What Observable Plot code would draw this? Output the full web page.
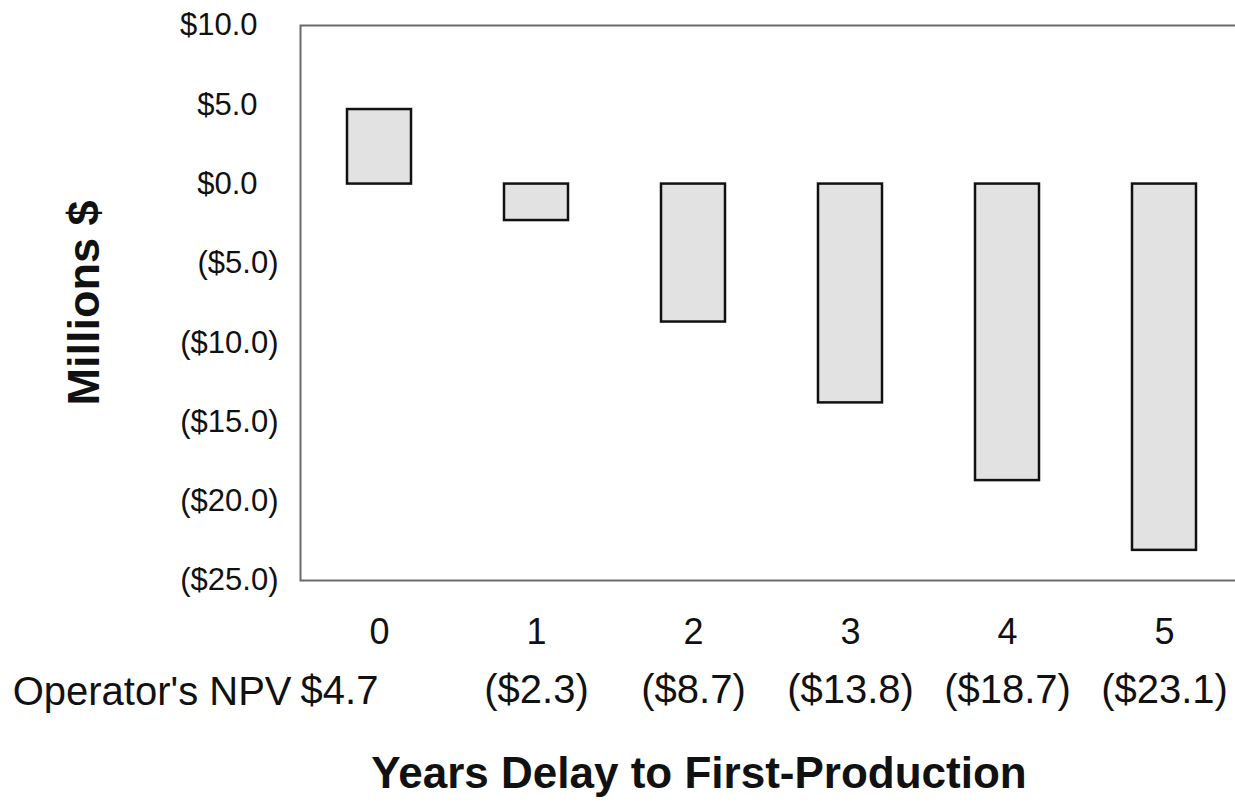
<!DOCTYPE html>
<html>
<head>
<meta charset="utf-8">
<script src="https://cdn.jsdelivr.net/npm/d3@7"></script>
<script src="https://cdn.jsdelivr.net/npm/@observablehq/plot@0.6"></script>
<style>
  html, body { margin: 0; padding: 0; background: #fff; }
  #chart svg { display: block; }
</style>
</head>
<body>
<div id="chart"></div>
<script>
const years = [0, 1, 2, 3, 4, 5];
const npv = [4.7, -2.3, -8.7, -13.8, -18.7, -23.1];
const yTicks = [10, 5, 0, -5, -10, -15, -20, -25];
const rowLabel = "Operator's NPV";
const xTitle = "Years Delay to First-Production";
const yTitle = "Millions $";

const data = years.map((y, i) => ({year: y, npv: npv[i]}));
const money = v => {
  const s = "$" + Math.abs(v).toFixed(1);
  return v < 0 ? "(" + s + ")" : s;
};

const font = "'Liberation Sans', Arial, sans-serif";

const chart = Plot.plot({
  width: 1235,
  height: 803,
  marginLeft: 300,
  marginRight: -8,
  marginTop: 25,
  marginBottom: 223,
  style: {fontFamily: font, background: "#fff", color: "#111"},
  x: {type: "band", domain: years, paddingInner: 0.59, paddingOuter: 0.295, axis: null},
  y: {domain: [-25, 10], axis: null},
  marks: [
    Plot.frame({stroke: "#6a6a6a", strokeWidth: 2}),
    Plot.barY(data, {x: "year", y1: 0, y2: "npv", fill: "#e2e2e2", stroke: "#111", strokeWidth: 2.5}),
    Plot.axisY(yTicks.filter(t => t >= 0), {
      label: null, tickSize: 0, tickPadding: 0, dx: -43, fontSize: 31, tickFormat: money, fill: "#111"
    }),
    Plot.axisY(yTicks.filter(t => t < 0), {
      label: null, tickSize: 0, tickPadding: 0, dx: -22, fontSize: 31, tickFormat: money, fill: "#111"
    }),
    Plot.axisX({label: null, tickSize: 0, tickPadding: 0, dy: 52, lineAnchor: "middle", fontSize: 36, fill: "#111"}),
    Plot.text(data.filter(d => d.npv >= 0), {
      x: "year", text: d => money(d.npv), frameAnchor: "bottom", dy: 123, dx: -40,
      fontSize: 40, fill: "#111"
    }),
    Plot.text(data.filter(d => d.npv < 0), {
      x: "year", text: d => money(d.npv), frameAnchor: "bottom", dy: 122,
      fontSize: 40, fill: "#111"
    }),
    Plot.text([rowLabel], {
      frameAnchor: "bottom-left", dx: -9, dy: 124, textAnchor: "end",
      fontSize: 40, fill: "#111"
    }),
    Plot.text([xTitle], {
      frameAnchor: "bottom", dy: 207, dx: -73, fontSize: 44, fontWeight: "bold", fill: "#111"
    }),
    Plot.text([yTitle], {
      frameAnchor: "left", textAnchor: "middle", dx: -216, dy: 0, rotate: -90,
      fontSize: 45, fontWeight: "bold", fill: "#111"
    })
  ]
});

document.getElementById("chart").appendChild(chart);
</script>
</body>
</html>
